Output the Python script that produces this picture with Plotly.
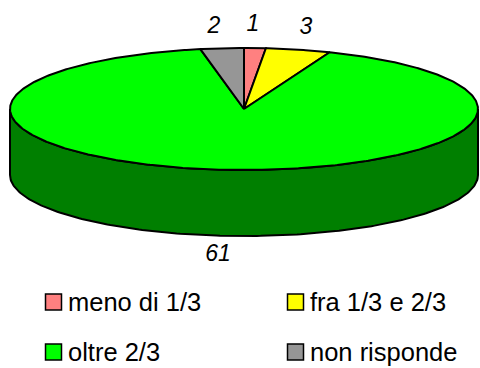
import numpy as np
import plotly.graph_objects as go

categories = ["meno di 1/3", "fra 1/3 e 2/3", "oltre 2/3", "non risponde"]
values = [1, 3, 61, 2]

colors = ["#FF8080", "#FFFF00", "#00FF00", "#969696"]
side_colors = ["#804040", "#808000", "#007F00", "#4B4B4B"]
label_pos = [(253, 25), (306, 28), (218, 255), (214, 27)]
legend_marker_pos = [(53.5, 302), (295.5, 302), (53.5, 352), (295.5, 352)]

W, H = 480, 368
CX, CY, A, B, DEPTH = 244, 109, 234, 61, 66
OUTLINE = dict(color="black", width=2)


def ellipse(theta_deg, dy=0):
    t = np.radians(theta_deg)
    return CX + A * np.sin(t), CY - B * np.cos(t) + dy


fig = go.Figure()
edges = np.cumsum([0] + values) / sum(values) * 360

# side walls (only the front half of the disc is visible)
for i in range(len(values)):
    lo, hi = max(edges[i], 90), min(edges[i + 1], 270)
    if hi <= lo:
        continue
    th = np.linspace(lo, hi, 200)
    xt, yt = ellipse(th)
    xb, yb = ellipse(th, DEPTH)
    fig.add_trace(go.Scatter(
        x=np.r_[xt, xb[::-1], xt[0]], y=np.r_[yt, yb[::-1], yt[0]],
        mode="lines", fill="toself", fillcolor=side_colors[i],
        line=dict(color="black", width=2), hoverinfo="skip", showlegend=False))

# top slices
for i in range(len(values)):
    th = np.linspace(edges[i], edges[i + 1], max(int(edges[i + 1] - edges[i]) * 2, 8))
    x, y = ellipse(th)
    fig.add_trace(go.Scatter(
        x=np.r_[CX, x, CX], y=np.r_[CY, y, CY],
        mode="lines", fill="toself", fillcolor=colors[i],
        line=OUTLINE, name=categories[i], showlegend=False))

# data labels
fig.add_trace(go.Scatter(
    x=[p[0] for p in label_pos], y=[p[1] for p in label_pos],
    mode="text", text=[str(v) for v in values], textposition="middle center",
    textfont=dict(family="Liberation Sans", size=23, color="black", style="italic"),
    hoverinfo="skip", showlegend=False))

# legend
fig.add_trace(go.Scatter(
    x=[p[0] for p in legend_marker_pos], y=[p[1] for p in legend_marker_pos],
    mode="markers", marker=dict(symbol="square", size=16, color=colors,
                                line=dict(color="black", width=1.5)),
    hoverinfo="skip", showlegend=False))
for cat, (mx, my) in zip(categories, legend_marker_pos):
    fig.add_annotation(x=mx + 14, y=my, text=cat, showarrow=False, xanchor="left",
                       yanchor="middle", align="left",
                       font=dict(family="Liberation Sans", size=25.5, color="black"),
                       borderpad=0, borderwidth=0)

fig.update_layout(
    width=W, height=H, margin=dict(l=0, r=0, t=0, b=0),
    paper_bgcolor="white", plot_bgcolor="white", showlegend=False,
    xaxis=dict(range=[0, W], visible=False, fixedrange=True),
    yaxis=dict(range=[H, 0], visible=False, fixedrange=True),
)
fig.write_html("out.html", config={"displayModeBar": False},
               post_script="document.body.style.margin='0';document.body.style.overflow='hidden';")
